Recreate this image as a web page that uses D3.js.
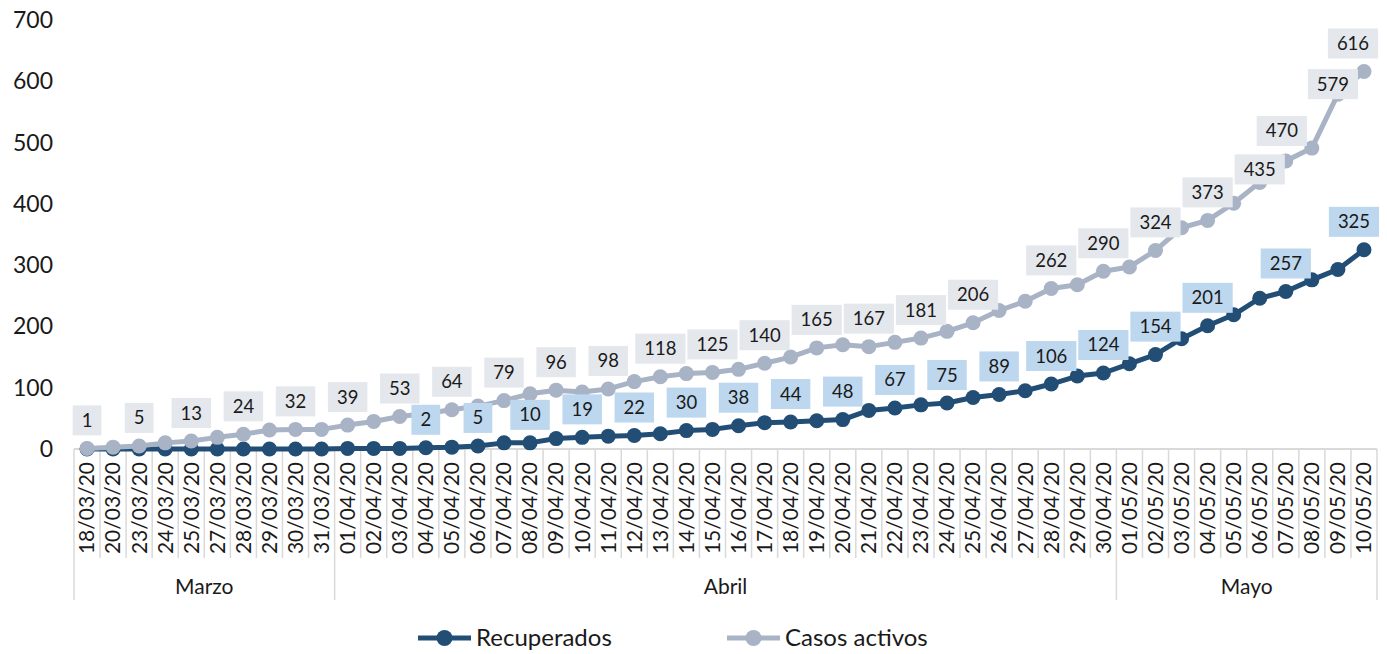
<!DOCTYPE html>
<html>
<head>
<meta charset="utf-8">
<script src="https://cdn.jsdelivr.net/npm/d3@7"></script>
<style>
  body { margin: 0; background: #fff; }
  text { font-family: Lato, "Open Sans", sans-serif; fill: #1a1a1a; }
</style>
</head>
<body>
<div id="chart"></div>
<script>
// categories
const fechas = [
  '18/03/20','20/03/20','23/03/20','24/03/20','25/03/20','27/03/20','28/03/20','29/03/20','30/03/20','31/03/20',
  '01/04/20','02/04/20','03/04/20','04/04/20','05/04/20','06/04/20','07/04/20','08/04/20','09/04/20','10/04/20',
  '11/04/20','12/04/20','13/04/20','14/04/20','15/04/20','16/04/20','17/04/20','18/04/20','19/04/20','20/04/20',
  '21/04/20','22/04/20','23/04/20','24/04/20','25/04/20','26/04/20','27/04/20','28/04/20','29/04/20','30/04/20',
  '01/05/20','02/05/20','03/05/20','04/05/20','05/05/20','06/05/20','07/05/20','08/05/20','09/05/20','10/05/20'
];
const meses = ['Marzo', 'Abril', 'Mayo'];
const diasPorMes = [10, 30, 10];

// series
const recuperados = [
  0, 0, 0, 0, 0, 0, 0, 0, 0, 0,
  1, 1, 1, 2, 3, 5, 10, 10, 17, 19,
  21, 22, 25, 30, 32, 38, 43, 44, 46, 48,
  63, 67, 72, 75, 84, 89, 95, 106, 119, 124,
  139, 154, 180, 201, 219, 246, 257, 276, 293, 325
];
const casosActivos = [
  1, 3, 5, 10, 13, 19, 24, 31, 32, 32,
  39, 45, 53, 58, 64, 70, 79, 90, 96, 93,
  98, 110, 118, 123, 125, 130, 140, 150, 165, 170,
  167, 174, 181, 192, 206, 226, 241, 262, 268, 290,
  297, 324, 361, 373, 401, 435, 470, 491, 579, 616
];
// which points carry a data label
const etiquetasRecuperados = [13,15,17,19,21,23,25,27,29,31,33,35,37,39,41,43,46,49];
const etiquetasActivos = [0,2,4,6,8,10,12,14,16,18,20,22,24,26,28,30,32,34,37,39,41,43,45,46,48,49];
const yTicks = [0, 100, 200, 300, 400, 500, 600, 700];

const width = 1387, height = 654;
const colorRec = '#224e76', colorAct = '#a8b3c5';

const svg = d3.select('#chart').append('svg')
  .attr('width', width).attr('height', height);

const x = d3.scaleBand().domain(fechas).range([74, 1377]).padding(0);
const cx = d => x(d) + x.bandwidth() / 2;
const y = d3.scaleLinear().domain([0, 700]).range([449, 20]);

// y axis labels (no gridlines)
svg.append('g').selectAll('text')
  .data(yTicks)
  .join('text')
    .attr('x', 53)
    .attr('y', d => y(d))
    .attr('dy', '0.35em')
    .attr('text-anchor', 'end')
    .attr('font-size', '23px')
    .text(d => d);

// category axis
const axis = svg.append('g');
axis.append('line')
  .attr('x1', 74).attr('x2', 1377).attr('y1', 449).attr('y2', 449)
  .attr('stroke', '#d9d9d9').attr('stroke-width', 2);

const bordes = d3.range(fechas.length + 1).map(i => 74 + i * x.bandwidth());
const cortesMes = d3.cumsum([0, ...diasPorMes]);
axis.selectAll('line.sep')
  .data(bordes)
  .join('line')
    .attr('class', 'sep')
    .attr('x1', d => d).attr('x2', d => d)
    .attr('y1', 449)
    .attr('y2', (d, i) => cortesMes.includes(i) ? 600 : 558)
    .attr('stroke', '#d9d9d9').attr('stroke-width', 1.5);

axis.selectAll('text.fecha')
  .data(fechas)
  .join('text')
    .attr('class', 'fecha')
    .attr('transform', d => `translate(${cx(d)},462) rotate(-90)`)
    .attr('text-anchor', 'end')
    .attr('dy', '0.35em')
    .attr('font-size', '21px')
    .text(d => d);

axis.selectAll('text.mes')
  .data(meses)
  .join('text')
    .attr('class', 'mes')
    .attr('x', (d, i) => (bordes[cortesMes[i]] + bordes[cortesMes[i + 1]]) / 2)
    .attr('y', 587)
    .attr('dy', '0.35em')
    .attr('text-anchor', 'middle')
    .attr('font-size', '21px')
    .text(d => d);

// lines and markers (grey series sits on top)
const line = d3.line().x((d, i) => cx(fechas[i])).y(d => y(d));
const series = [
  {name: 'Recuperados', values: recuperados, color: colorRec},
  {name: 'Casos activos', values: casosActivos, color: colorAct}
];
series.forEach(s => {
  svg.append('path')
    .attr('d', line(s.values))
    .attr('fill', 'none')
    .attr('stroke', s.color)
    .attr('stroke-width', 5)
    .attr('stroke-linejoin', 'round');
  svg.append('g').selectAll('circle')
    .data(s.values)
    .join('circle')
      .attr('cx', (d, i) => cx(fechas[i]))
      .attr('cy', d => y(d))
      .attr('r', 7.5)
      .attr('fill', s.color);
});

// data labels, nudged where Excel moved them by hand
const ajuste = {
  act: {45: [0, 15], 46: [-4, -2], 48: [-5, 18], 49: [-11, 0]},
  rec: {49: [-10, 0]}
};
function etiquetas(idx, values, fill, key) {
  const g = svg.append('g').selectAll('g')
    .data(idx)
    .join('g')
      .attr('transform', i => {
        const [dx, dy] = ajuste[key][i] || [0, 0];
        return `translate(${cx(fechas[i]) + dx},${y(values[i]) - 28 + dy})`;
      });
  g.append('text')
    .attr('text-anchor', 'middle')
    .attr('dy', '0.35em')
    .attr('font-size', '18.5px')
    .text(i => values[i]);
  g.each(function() {
    const t = d3.select(this).select('text');
    const w = t.node().getComputedTextLength() + 18;
    d3.select(this).insert('rect', 'text')
      .attr('x', -w / 2).attr('y', -15)
      .attr('width', w).attr('height', 30)
      .attr('fill', fill);
  });
}
etiquetas(etiquetasActivos, casosActivos, '#e4e7ec', 'act');
etiquetas(etiquetasRecuperados, recuperados, '#bdd7ee', 'rec');

// legend
const leyenda = svg.append('g').selectAll('g')
  .data(series)
  .join('g')
    .attr('transform', (d, i) => `translate(${418 + i * 309},638)`);
leyenda.append('line')
  .attr('x1', 0).attr('x2', 53)
  .attr('stroke', d => d.color).attr('stroke-width', 5);
leyenda.append('circle')
  .attr('cx', 26.5).attr('r', 8)
  .attr('fill', d => d.color);
leyenda.append('text')
  .attr('x', 58)
  .attr('dy', '0.35em')
  .attr('font-size', '24px')
  .text(d => d.name);
</script>
</body>
</html>
